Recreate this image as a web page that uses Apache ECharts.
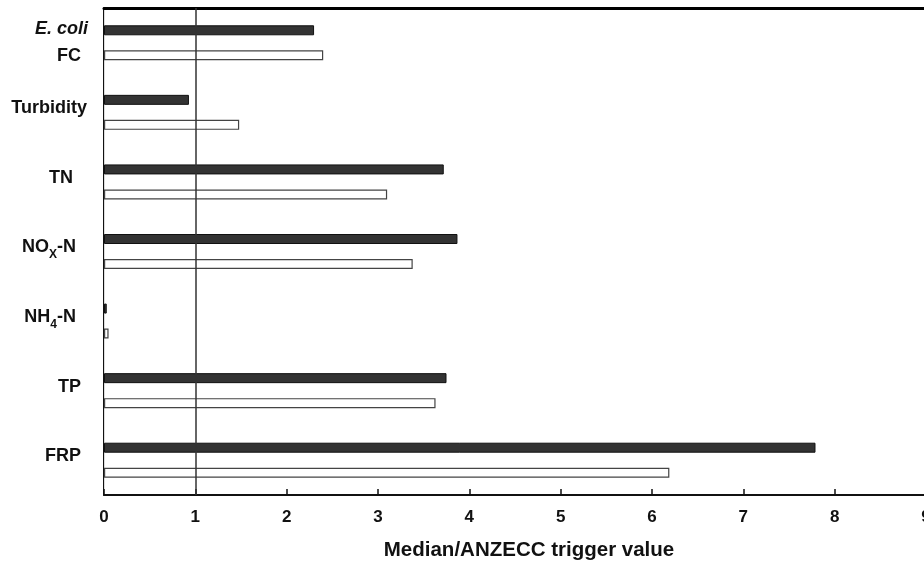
<!DOCTYPE html>
<html>
<head>
<meta charset="UTF-8">
<title>Median/ANZECC trigger value</title>
<script src="https://cdn.jsdelivr.net/npm/echarts@6/dist/echarts.min.js"></script>
<style>
body {
    padding: 0;
    margin: 0;
    background: #fff;
}
</style>
</head>
<body>
<div id="main" style="width: 924px;height:566px"></div>
<script>
var categories = ['E. coli/FC', 'Turbidity', 'TN', 'NOx-N', 'NH4-N', 'TP', 'FRP'];
var darkValues = [2.30, 0.93, 3.72, 3.87, 0.03, 3.75, 7.79];
var whiteValues = [2.40, 1.48, 3.10, 3.38, 0.05, 3.63, 6.19];
var xTicks = { min: 0, max: 9, interval: 1 };
var refValue = 1;

// labels with italic / subscripts
function catLabel(name) {
    if (name == 'E. coli/FC') return '{it|E. coli}\n{fc|FC}';
    if (name == 'Turbidity') return '{w|Turbidity}';
    if (name == 'TN') return '{n|TN}';
    if (name == 'NOx-N') return '{b|NO}{sub|X}{bn|-N}';
    if (name == 'NH4-N') return '{b|NH}{sub|4}{bn|-N}';
    return '{m|' + name + '}';
}

var font = 'Liberation Sans, Arial, sans-serif';
var chart = echarts.init(document.getElementById('main'));
option = {
    animation: false,
    backgroundColor: '#fff',
    grid: {
        left: 104,
        right: -2,
        top: 8,
        bottom: 71,
        outerBoundsMode: 'none'
    },
    xAxis: [{
        type: 'value',
        min: xTicks.min,
        max: xTicks.max,
        interval: xTicks.interval,
        name: 'Median/ANZECC trigger value',
        nameLocation: 'middle',
        nameGap: 45,
        nameTextStyle: {
            fontFamily: font,
            fontWeight: 'bold',
            fontSize: 20.5,
            color: '#111',
            padding: [0, 0, 0, 28]
        },
        axisLine: { show: true, lineStyle: { color: '#111', width: 2 } },
        axisTick: { show: true, inside: true, length: 6, lineStyle: { color: '#111', width: 1.5 } },
        axisLabel: {
            margin: 14,
            fontFamily: font,
            fontWeight: 'bold',
            fontSize: 17,
            color: '#111',
            showMaxLabel: true
        },
        splitLine: { show: false }
    }, {
        type: 'value',
        position: 'top',
        min: xTicks.min,
        max: xTicks.max,
        axisLine: { show: true, lineStyle: { color: '#000', width: 3 } },
        axisTick: { show: false },
        axisLabel: { show: false },
        splitLine: { show: false }
    }],
    yAxis: [{
        type: 'category',
        inverse: true,
        data: categories,
        axisLine: { show: true, lineStyle: { color: '#111', width: 2 } },
        axisTick: { show: false },
        axisLabel: {
            margin: 16,
            formatter: catLabel,
            rich: {
                it: { fontFamily: font, fontWeight: 'bold', fontStyle: 'italic', fontSize: 18, color: '#111', lineHeight: 27 },
                fc: { fontFamily: font, fontWeight: 'bold', fontSize: 18, color: '#111', lineHeight: 27, padding: [0, 7, 0, 0] },
                w: { fontFamily: font, fontWeight: 'bold', fontSize: 18, color: '#111', padding: [0, 1, 8, 0] },
                m: { fontFamily: font, fontWeight: 'bold', fontSize: 18, color: '#111', padding: [0, 7, 8, 0] },
                n: { fontFamily: font, fontWeight: 'bold', fontSize: 18, color: '#111', padding: [0, 15, 8, 0] },
                b: { fontFamily: font, fontWeight: 'bold', fontSize: 18, color: '#111', padding: [0, 0, 8, 0] },
                bn: { fontFamily: font, fontWeight: 'bold', fontSize: 18, color: '#111', padding: [0, 12, 8, 0] },
                sub: { fontFamily: font, fontWeight: 'bold', fontSize: 12, color: '#111', padding: [7, 0, 0, 0] }
            }
        },
        splitLine: { show: false }
    }, {
        type: 'category',
        inverse: true,
        position: 'right',
        data: categories,
        axisLine: { show: true, lineStyle: { color: '#ddd', width: 1 } },
        axisTick: { show: false },
        axisLabel: { show: false }
    }],
    series: [{
        type: 'bar',
        data: darkValues,
        barWidth: 10,
        barGap: '150%',
        itemStyle: { color: '#333', borderColor: '#111', borderWidth: 1 },
        markLine: {
            silent: true,
            symbol: 'none',
            label: { show: false },
            lineStyle: { color: '#333', width: 1.5, type: 'solid' },
            data: [{ xAxis: refValue }]
        }
    }, {
        type: 'bar',
        data: whiteValues,
        barWidth: 10,
        itemStyle: { color: '#fff', borderColor: '#444', borderWidth: 1.2 }
    }]
};
chart.setOption(option);
</script>
</body>
</html>
